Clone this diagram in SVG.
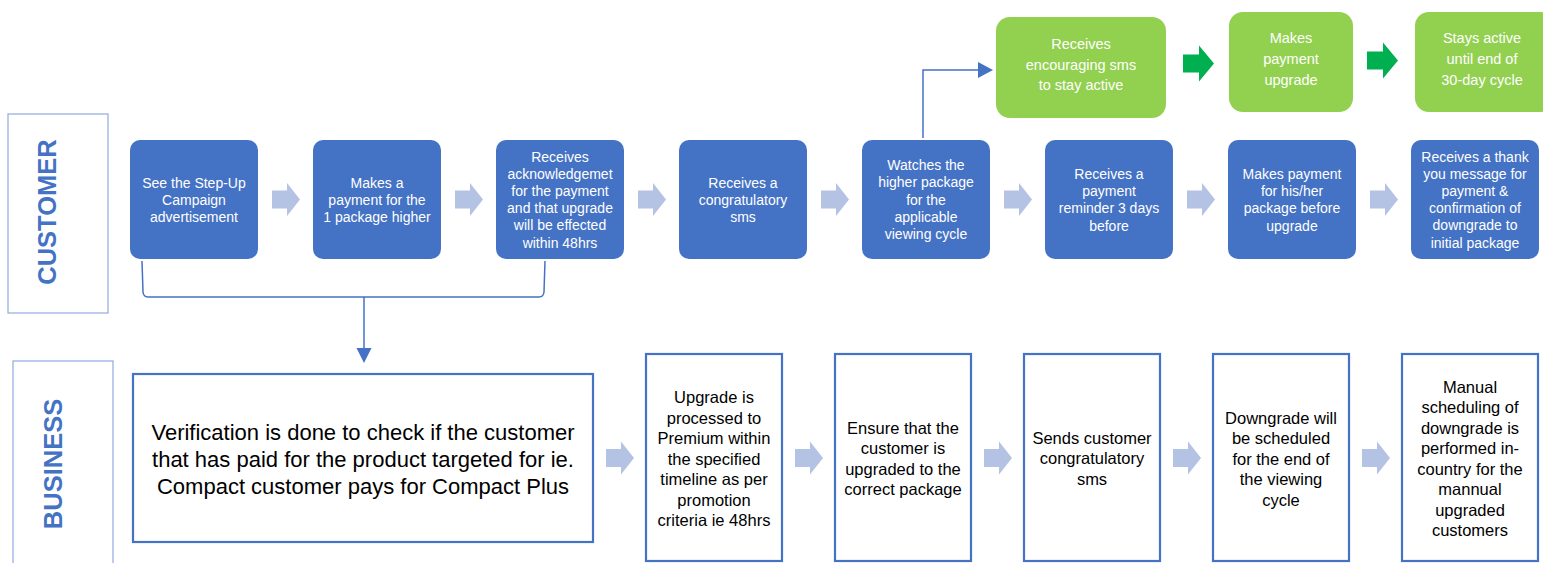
<svg xmlns="http://www.w3.org/2000/svg" width="1543" height="563" viewBox="0 0 1543 563">
<defs>
<style>
.lane{fill:#fff;stroke:#8faadc;stroke-width:1.2}
.lanet{font-family:"Liberation Sans",Arial,sans-serif;font-weight:bold;font-size:25.5px;fill:#4472c4;text-anchor:middle;dominant-baseline:central}
.bn{fill:#4472c4}
.gn{fill:#92d050}
.wt{font-family:"Liberation Sans",Arial,sans-serif;font-size:14px;fill:#fff;text-anchor:middle;dominant-baseline:central}
.gt{font-family:"Liberation Sans",Arial,sans-serif;font-size:14.5px;fill:#fff;text-anchor:middle;dominant-baseline:central}
.bx{fill:#fff;stroke:#4472c4;stroke-width:2.2}
.kt{font-family:"Liberation Sans",Arial,sans-serif;font-size:16.5px;fill:#000;text-anchor:middle;dominant-baseline:central}
.vt{font-family:"Liberation Sans",Arial,sans-serif;font-size:22px;fill:#000;text-anchor:middle;dominant-baseline:central}
.la{fill:#b4c2e4}
.ga{fill:#00b050}
.ln{fill:none;stroke:#4472c4;stroke-width:1.5}
.ah{fill:#4472c4}
</style>
<path id="barr" d="M0,-9 H15 V-16.5 L28,0 L15,16.5 V9 H0 Z"/>
<path id="garr" d="M0,-9 H16 V-18 L31,0 L16,18 V9 H0 Z"/>
</defs>

<g id="lane-customer">
<rect class="lane" x="8" y="114" width="100" height="199"/>
<text class="lanet" transform="translate(47,212) rotate(-90)">CUSTOMER</text>
</g>
<g id="lane-business">
<rect class="lane" x="13" y="361" width="100" height="210"/>
<text class="lanet" transform="translate(53,464) rotate(-90)" font-size="22">BUSINESS</text>
</g>

<g id="c1"><rect class="bn" x="130" y="140" width="128" height="119" rx="10"/>
<text class="wt"><tspan x="194" y="183">See the Step-Up</tspan><tspan x="194" y="200">Campaign</tspan><tspan x="194" y="217">advertisement</tspan></text></g>
<g id="c2"><rect class="bn" x="313" y="140" width="128" height="119" rx="10"/>
<text class="wt"><tspan x="377" y="183">Makes a</tspan><tspan x="377" y="200">payment for the</tspan><tspan x="377" y="217">1 package higher</tspan></text></g>
<g id="c3"><rect class="bn" x="496" y="140" width="128" height="119" rx="10"/>
<text class="wt"><tspan x="560" y="156.5">Receives</tspan><tspan x="560" y="173.5">acknowledgemet</tspan><tspan x="560" y="190.5">for the payment</tspan><tspan x="560" y="208">and that upgrade</tspan><tspan x="560" y="225">will be effected</tspan><tspan x="560" y="242.5">within 48hrs</tspan></text></g>
<g id="c4"><rect class="bn" x="679" y="140" width="128" height="119" rx="10"/>
<text class="wt"><tspan x="743" y="183">Receives a</tspan><tspan x="743" y="200">congratulatory</tspan><tspan x="743" y="217">sms</tspan></text></g>
<g id="c5"><rect class="bn" x="862" y="140" width="128" height="119" rx="10"/>
<text class="wt"><tspan x="926" y="165">Watches the</tspan><tspan x="926" y="182">higher package</tspan><tspan x="926" y="199.5">for the</tspan><tspan x="926" y="217">applicable</tspan><tspan x="926" y="234">viewing cycle</tspan></text></g>
<g id="c6"><rect class="bn" x="1045" y="140" width="128" height="119" rx="10"/>
<text class="wt"><tspan x="1109" y="174">Receives a</tspan><tspan x="1109" y="191">payment</tspan><tspan x="1109" y="208">reminder 3 days</tspan><tspan x="1109" y="225.5">before</tspan></text></g>
<g id="c7"><rect class="bn" x="1228" y="140" width="128" height="119" rx="10"/>
<text class="wt"><tspan x="1292" y="174">Makes payment</tspan><tspan x="1292" y="191">for his/her</tspan><tspan x="1292" y="208">package before</tspan><tspan x="1292" y="225.5">upgrade</tspan></text></g>
<g id="c8"><rect class="bn" x="1411" y="140" width="128" height="119" rx="10"/>
<text class="wt"><tspan x="1475" y="156.5">Receives a thank</tspan><tspan x="1475" y="173.5">you message for</tspan><tspan x="1475" y="190.5">payment &amp;</tspan><tspan x="1475" y="208">confirmation of</tspan><tspan x="1475" y="225">downgrade to</tspan><tspan x="1475" y="242.5">initial package</tspan></text></g>

<g id="g1"><rect class="gn" x="996" y="17" width="170" height="101" rx="14"/>
<text class="gt"><tspan x="1081" y="44">Receives</tspan><tspan x="1081" y="64.5">encouraging sms</tspan><tspan x="1081" y="85">to stay active</tspan></text></g>
<g id="g2"><rect class="gn" x="1229" y="12" width="124" height="100" rx="14"/>
<text class="gt"><tspan x="1291" y="38">Makes</tspan><tspan x="1291" y="59">payment</tspan><tspan x="1291" y="80">upgrade</tspan></text></g>
<g id="g3"><rect class="gn" x="1415" y="12" width="140" height="100" rx="14"/>
<text class="gt"><tspan x="1482" y="38">Stays active</tspan><tspan x="1482" y="59">until end of</tspan><tspan x="1482" y="80">30-day cycle</tspan></text></g>

<g id="b0"><rect class="bx" x="133" y="374" width="460" height="168"/>
<text class="vt"><tspan x="363" y="432">Verification is done to check if the customer</tspan><tspan x="363" y="459">that has paid for the product targeted for ie.</tspan><tspan x="363" y="486">Compact customer pays for Compact Plus</tspan></text></g>
<g id="b1"><rect class="bx" x="646" y="354" width="136" height="207"/>
<text class="kt"><tspan x="714" y="397">Upgrade is</tspan><tspan x="714" y="417.5">processed to</tspan><tspan x="714" y="438">Premium within</tspan><tspan x="714" y="458.5">the specified</tspan><tspan x="714" y="479">timeline as per</tspan><tspan x="714" y="499.5">promotion</tspan><tspan x="714" y="520">criteria ie 48hrs</tspan></text></g>
<g id="b2"><rect class="bx" x="835" y="354" width="136" height="207"/>
<text class="kt"><tspan x="903" y="427.5">Ensure that the</tspan><tspan x="903" y="448">customer is</tspan><tspan x="903" y="468.5">upgraded to the</tspan><tspan x="903" y="489">correct package</tspan></text></g>
<g id="b3"><rect class="bx" x="1024" y="354" width="136" height="207"/>
<text class="kt"><tspan x="1092" y="437.5">Sends customer</tspan><tspan x="1092" y="458">congratulatory</tspan><tspan x="1092" y="478.5">sms</tspan></text></g>
<g id="b4"><rect class="bx" x="1213" y="354" width="136" height="207"/>
<text class="kt"><tspan x="1281" y="417.5">Downgrade will</tspan><tspan x="1281" y="438">be scheduled</tspan><tspan x="1281" y="458.5">for the end of</tspan><tspan x="1281" y="479">the viewing</tspan><tspan x="1281" y="499.5">cycle</tspan></text></g>
<g id="b5"><rect class="bx" x="1402" y="354" width="136" height="207"/>
<text class="kt"><tspan x="1470" y="386.5">Manual</tspan><tspan x="1470" y="407">scheduling of</tspan><tspan x="1470" y="427.5">downgrade is</tspan><tspan x="1470" y="448">performed in-</tspan><tspan x="1470" y="468.5">country for the</tspan><tspan x="1470" y="489">mannual</tspan><tspan x="1470" y="509.5">upgraded</tspan><tspan x="1470" y="530">customers</tspan></text></g>

<g id="connectors">
<use href="#barr" class="la" x="272" y="199.5"/>
<use href="#barr" class="la" x="455" y="199.5"/>
<use href="#barr" class="la" x="638" y="199.5"/>
<use href="#barr" class="la" x="821" y="199.5"/>
<use href="#barr" class="la" x="1004" y="199.5"/>
<use href="#barr" class="la" x="1187" y="199.5"/>
<use href="#barr" class="la" x="1370" y="199.5"/>
<use href="#barr" class="la" x="606" y="458"/>
<use href="#barr" class="la" x="795" y="458"/>
<use href="#barr" class="la" x="984" y="458"/>
<use href="#barr" class="la" x="1173" y="458"/>
<use href="#barr" class="la" x="1362" y="458"/>
<use href="#garr" class="ga" x="1183" y="63.5"/>
<use href="#garr" class="ga" x="1367" y="60.5"/>
<path class="ln" d="M142,261 L143,292 Q143.5,297 148,297 H539 Q543.5,297 544,292 L545,261"/>
<path class="ln" d="M364,297 V349"/>
<polygon class="ah" points="356.5,348 371.5,348 364,363"/>
<path class="ln" d="M923,138 V70 H980"/>
<polygon class="ah" points="978,62 978,78 993,70"/>
</g>
</svg>
